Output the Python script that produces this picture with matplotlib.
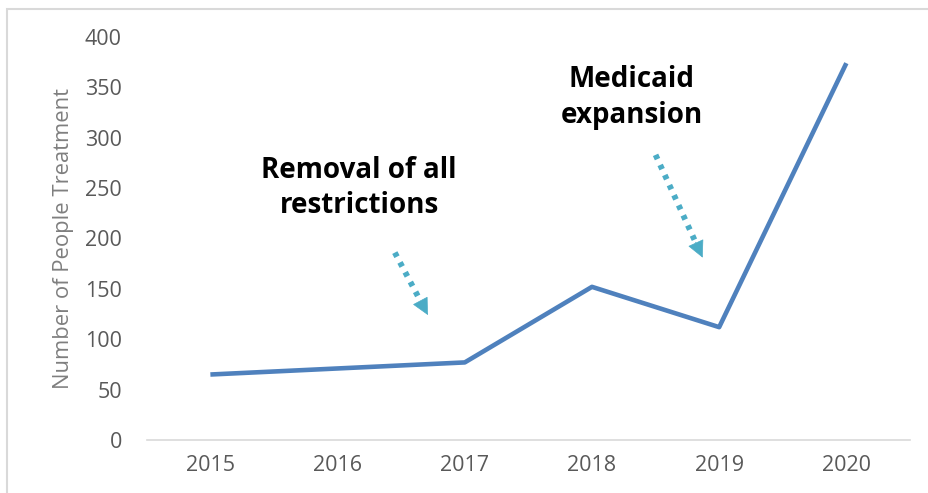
# line chart: people in treatment by year, with policy annotations
import matplotlib.pyplot as plt
from matplotlib.patches import Rectangle

years = [2015, 2016, 2017, 2018, 2019, 2020]
people = [65, 71, 77, 152, 112, 374]
y_ticks = [0, 50, 100, 150, 200, 250, 300, 350, 400]

plt.rcParams['font.family'] = ['Open Sans', 'DejaVu Sans']

fig = plt.figure(figsize=(9.29, 4.93), dpi=100)
ax = fig.add_axes([0.158, 0.1075, 0.8215, 0.8175])

ax.plot(years, people, color='#4F81BD', linewidth=3.3, solid_capstyle='butt')

ax.set_xlim(2014.5, 2020.5)
ax.set_ylim(0, 400)
ax.set_xticks(years)
ax.set_yticks(y_ticks)
ax.tick_params(length=0, labelsize=15.5, labelcolor='#595959')
ax.tick_params(axis='y', pad=18)
ax.tick_params(axis='x', pad=11)
for s in ['top', 'right', 'left']:
    ax.spines[s].set_visible(False)
ax.spines['bottom'].set_color('#d9d9d9')
ax.spines['bottom'].set_linewidth(1.2)
ax.set_ylabel('Number of People Treatment', fontsize=15.8, color='#7f7f7f', labelpad=8)

# annotations
ax.text(2016.17, 250, 'Removal of all\nrestrictions', ha='center', va='center',
        fontsize=20, fontweight='bold', linespacing=1.3)
ax.text(2018.31, 340, 'Medicaid\nexpansion', ha='center', va='center',
        fontsize=20, fontweight='bold', linespacing=1.3)


def dotted_arrow(start, end):
    # dotted shaft, then a solid head at the end
    ax.annotate('', xy=end, xytext=start,
                arrowprops=dict(arrowstyle='-', color='#4BACC6', lw=4.2, ls=(0, (0.8, 1.1)),
                                capstyle='butt', shrinkA=0, shrinkB=12))
    dx = end[0] - start[0]
    dy = end[1] - start[1]
    ax.annotate('', xy=end, xytext=(end[0] - dx * 0.15, end[1] - dy * 0.15),
                arrowprops=dict(arrowstyle='-|>,head_length=1.1,head_width=0.55',
                                color='#4BACC6', lw=0.5, shrinkA=0, shrinkB=0))


dotted_arrow((2016.45, 186), (2016.71, 124))
dotted_arrow((2018.50, 283), (2018.87, 181))

# light frame around the chart
fig.patches.append(Rectangle((7 / 929, -0.1), 1.2, 1 - 9 / 493 + 0.1, transform=fig.transFigure,
                             fill=False, edgecolor='#d9d9d9', linewidth=1.5))

plt.savefig('out.png', dpi=100)
